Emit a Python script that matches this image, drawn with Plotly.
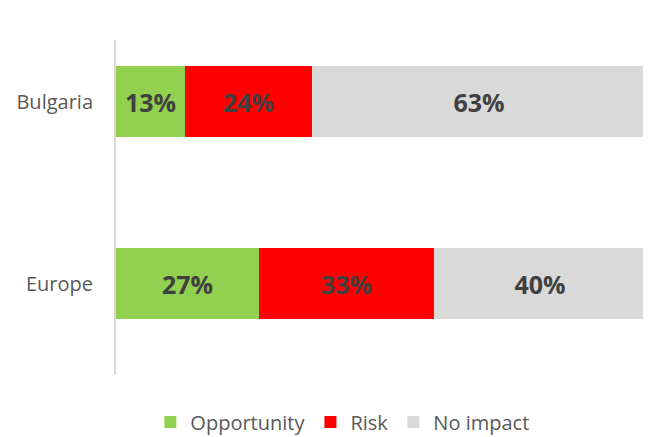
import plotly.graph_objects as go

categories = ['Europe', 'Bulgaria']
opportunity = [27, 13]
risk = [33, 24]
no_impact = [40, 63]

series = [
    ('Opportunity', opportunity, '#92D050'),
    ('Risk', risk, '#FF0000'),
    ('No impact', no_impact, '#D9D9D9'),
]

fig = go.Figure()
for name, vals, color in series:
    fig.add_trace(go.Bar(
        y=categories, x=vals, name=name, orientation='h',
        marker=dict(color=color, line=dict(width=0)),
        text=[f'{v}%' for v in vals], textposition='inside',
        insidetextanchor='middle',
        textfont=dict(family='Open Sans', size=25, color='#404040', weight='bold'),
    ))

# page body has an 8px margin, so the figure is sized to fit inside it
fig.update_layout(
    barmode='stack', bargap=0.61,
    width=643, height=429,
    margin=dict(l=108, r=5, t=32, b=62, autoexpand=False),
    plot_bgcolor='white', paper_bgcolor='white',
    font=dict(family='Open Sans', color='#595959'),
    legend=dict(orientation='h', x=0.52, xanchor='center', xref='container',
                y=0.035, yanchor='middle', yref='container',
                font=dict(size=20, color='#595959'), itemwidth=30,
                traceorder='normal'),
)
fig.update_xaxes(range=[0, 100], visible=False)
fig.update_yaxes(range=[-0.5, 1.34], showline=True, linecolor='#D9D9D9', linewidth=2,
                 ticks='', tickfont=dict(size=20, color='#595959'), ticklabelstandoff=17,
                 showgrid=False, automargin=False)

fig.write_html('out.html')
